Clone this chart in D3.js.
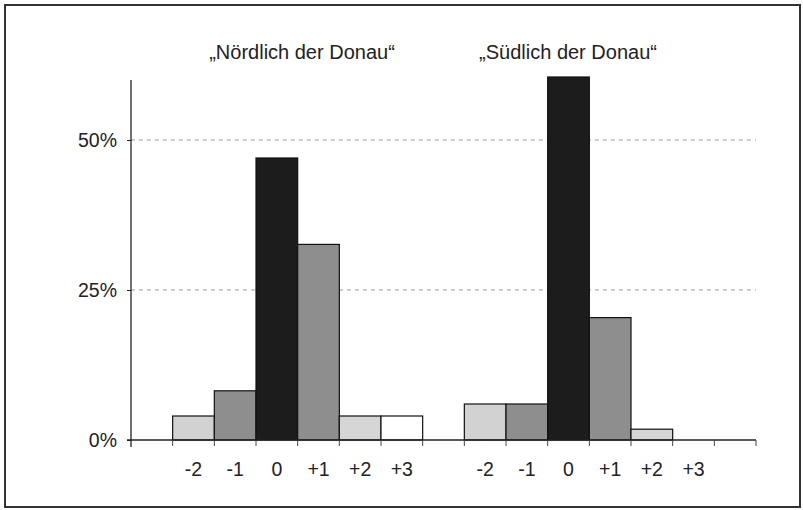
<!DOCTYPE html>
<html>
<head>
<meta charset="utf-8">
<script src="https://cdn.jsdelivr.net/npm/d3@7"></script>
<style>
  body { margin: 0; background: #fff; }
  text { font-family: "Liberation Sans", Arial, sans-serif; fill: #222; }
</style>
</head>
<body>
<svg id="chart" width="803" height="510"></svg>
<script>
  // categories and shares in percent
  var categories = ['-2', '-1', '0', '+1', '+2', '+3'];
  var north = [4, 8.2, 47, 32.6, 4, 4];
  var south = [6, 6, 60.5, 20.4, 1.8, 0];
  var groupTitles = ['\u201EN\u00F6rdlich der Donau\u201C', '\u201ES\u00FCdlich der Donau\u201C'];
  var yTicks = [0, 25, 50];
  var fills = ['#d2d2d2', '#8e8e8e', '#1c1c1c', '#8e8e8e', '#d6d6d6', '#ffffff'];

  var svg = d3.select('#chart');

  // outer frame
  svg.append('rect')
    .attr('x', 5).attr('y', 5)
    .attr('width', 795).attr('height', 502)
    .attr('fill', 'none')
    .attr('stroke', '#333')
    .attr('stroke-width', 2);

  // one slot per bar, plus spacer slots before, between and after the groups
  var slots = ['pad0'];
  categories.forEach(function(c) { slots.push('N' + c); });
  slots.push('gap');
  categories.forEach(function(c) { slots.push('S' + c); });
  slots.push('pad1');

  var x = d3.scaleBand().domain(slots).range([131, 756]).padding(0);
  var y = d3.scaleLinear().domain([0, 60]).range([440, 80]);

  // gridlines
  svg.append('g')
    .selectAll('line')
    .data(yTicks.filter(function(d) { return d > 0; }))
    .join('line')
    .attr('x1', 131).attr('x2', 756)
    .attr('y1', y).attr('y2', y)
    .attr('stroke', '#999')
    .attr('stroke-dasharray', '4,4');

  var bars = [];
  categories.forEach(function(c, i) {
    bars.push({slot: 'N' + c, value: north[i], fill: fills[i]});
    bars.push({slot: 'S' + c, value: south[i], fill: fills[i]});
  });

  svg.append('g')
    .selectAll('rect')
    .data(bars.filter(function(d) { return d.value > 0; }))
    .join('rect')
    .attr('x', function(d) { return x(d.slot); })
    .attr('y', function(d) { return y(d.value); })
    .attr('width', x.bandwidth())
    .attr('height', function(d) { return y(0) - y(d.value); })
    .attr('fill', function(d) { return d.fill; })
    .attr('stroke', '#111')
    .attr('stroke-width', 1.2);

  // y axis
  var yAxis = svg.append('g')
    .attr('transform', 'translate(131,0)')
    .call(d3.axisLeft(y).tickValues(yTicks).tickSize(4).tickFormat(function(d) { return d + '%'; }));
  yAxis.select('.domain').attr('d', 'M0,' + y(60) + 'V' + (y(0) + 7)).attr('stroke', '#222').attr('stroke-width', 1.3);
  yAxis.selectAll('.tick line').attr('stroke', '#222');
  yAxis.selectAll('.tick text')
    .attr('x', -14)
    .attr('dy', '0.35em')
    .style('font-size', '19.5px')
    .attr('fill', '#222');

  // x axis: ticks at slot boundaries, labels at slot centres
  var xg = svg.append('g').attr('transform', 'translate(0,' + y(0) + ')');
  xg.append('line')
    .attr('x1', 127).attr('x2', 756)
    .attr('stroke', '#222').attr('stroke-width', 1.3);
  var bounds = slots.map(function(s) { return x(s); }).concat([x.range()[1]]);
  xg.selectAll('line.tick')
    .data(bounds.slice(1))
    .join('line')
    .attr('class', 'tick')
    .attr('x1', function(d) { return d; }).attr('x2', function(d) { return d; })
    .attr('y1', 0).attr('y2', 6)
    .attr('stroke', '#444');

  xg.selectAll('text')
    .data(slots.filter(function(s) { return s[0] === 'N' || s[0] === 'S'; }))
    .join('text')
    .attr('x', function(d) { return x(d) + x.bandwidth() / 2; })
    .attr('y', 36)
    .attr('text-anchor', 'middle')
    .style('font-size', '19.5px')
    .text(function(d) { return d.slice(1); });

  // group titles
  svg.selectAll('text.title')
    .data(groupTitles)
    .join('text')
    .attr('class', 'title')
    .attr('x', function(d, i) { return i === 0 ? 302 : 568; })
    .attr('y', 59)
    .attr('text-anchor', 'middle')
    .style('font-size', '20px')
    .text(function(d) { return d; });
</script>
</body>
</html>
